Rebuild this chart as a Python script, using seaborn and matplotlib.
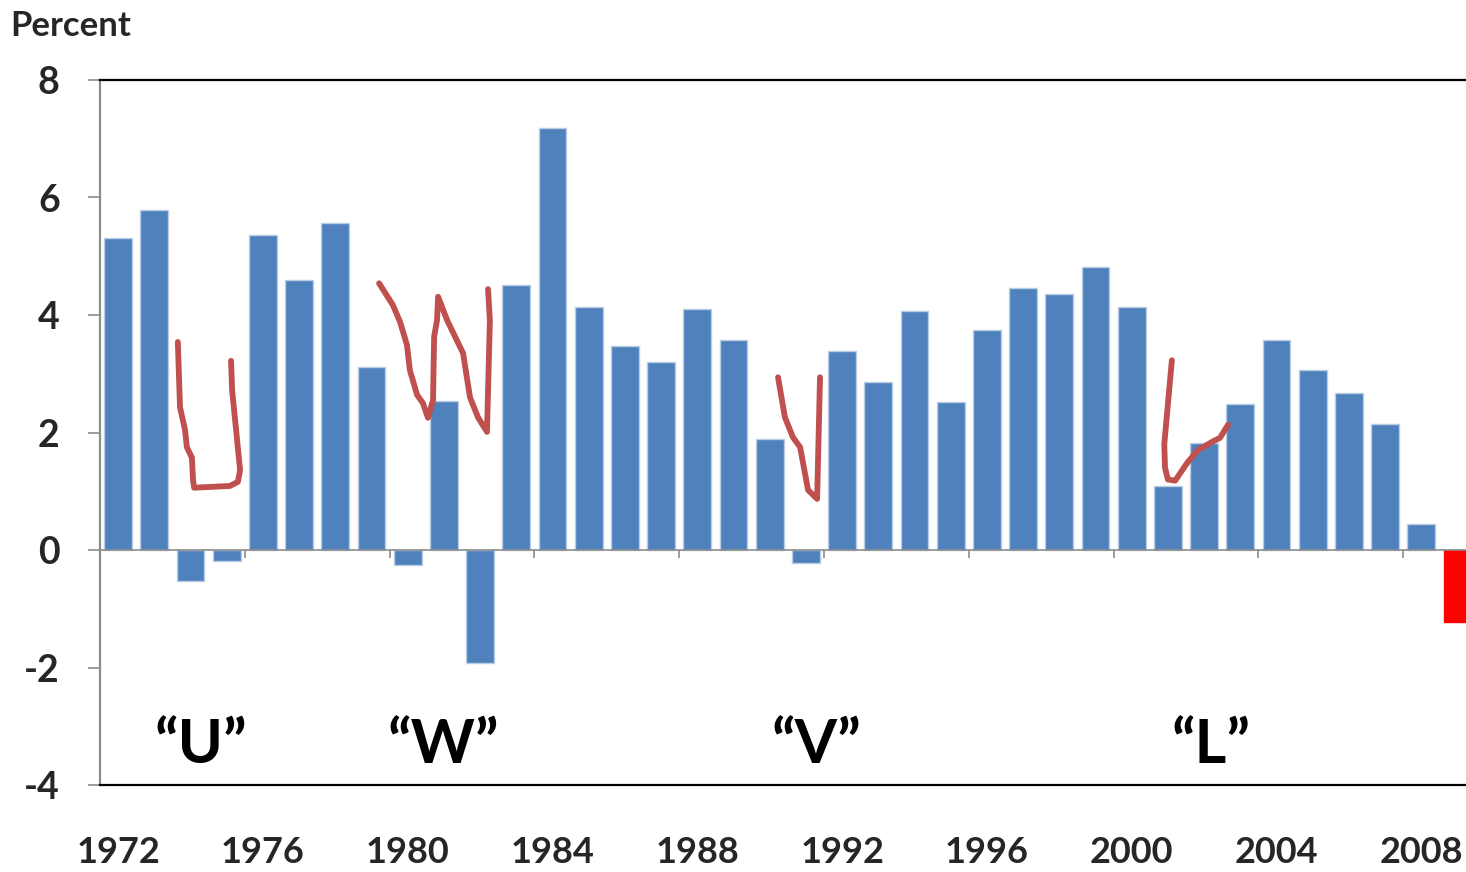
import matplotlib
matplotlib.use("Agg")
import matplotlib.pyplot as plt
import pandas as pd
import seaborn as sns

years = list(range(1972, 2010))
growth = [5.31, 5.79, -0.53, -0.19, 5.36, 4.60, 5.57, 3.11, -0.26, 2.54,
          -1.92, 4.51, 7.18, 4.14, 3.47, 3.20, 4.10, 3.57, 1.89, -0.22,
          3.39, 2.86, 4.07, 2.52, 3.74, 4.46, 4.36, 4.82, 4.14, 1.09,
          1.82, 2.49, 3.57, 3.06, 2.67, 2.14, 0.44, -1.23]
tick_years = list(range(1972, 2009, 4))
y_ticks = [-4, -2, 0, 2, 4, 6, 8]

# hand-drawn recession shapes (year, percent)
u_x = [1973.65, 1973.71, 1973.85, 1973.90, 1974.04, 1974.07, 1974.10, 1975.09, 1975.31, 1975.37, 1975.26, 1975.15, 1975.12]
u_y = [3.54, 2.43, 2.04, 1.75, 1.57, 1.19, 1.06, 1.09, 1.16, 1.36, 2.04, 2.72, 3.22]
w_x = [1979.21, 1979.59, 1979.79, 1979.98, 1980.06, 1980.26, 1980.42, 1980.56, 1980.70, 1980.73, 1980.81, 1980.84,
       1981.09, 1981.53, 1981.72, 1981.94, 1982.19, 1982.27, 1982.22]
w_y = [4.54, 4.17, 3.88, 3.49, 3.06, 2.64, 2.50, 2.25, 2.55, 3.63, 3.91, 4.31,
       3.91, 3.35, 2.60, 2.26, 2.01, 3.91, 4.44]
v_x = [1990.23, 1990.42, 1990.64, 1990.84, 1991.06, 1991.31, 1991.39]
v_y = [2.94, 2.26, 1.92, 1.75, 1.02, 0.87, 2.94]
l_x = [2001.11, 2000.90, 2000.92, 2001.00, 2001.20, 2001.53, 2001.83, 2002.22, 2002.44, 2002.66]
l_y = [3.23, 1.80, 1.40, 1.20, 1.18, 1.48, 1.70, 1.84, 1.91, 2.13]

shape_labels = ["\u201cU\u201d", "\u201cW\u201d", "\u201cV\u201d", "\u201cL\u201d"]
shape_label_x = [1974.3, 1981.0, 1991.3, 2002.2]

sns.set_style("white")
plt.rcParams["font.family"] = ["Lato", "DejaVu Sans"]

df = pd.DataFrame({"year": years, "growth": growth})
colors = ["#4F81BD"] * (len(years) - 1) + ["#FF0000"]

fig = plt.figure(figsize=(14.66, 8.72), dpi=100)
ax = fig.add_axes([100 / 1466, 87 / 872, 1375.6 / 1466, 705 / 872])
sns.barplot(data=df, x="year", y="growth", hue="year", palette=colors,
            legend=False, width=0.77, ax=ax, saturation=1)
for i, p in enumerate(ax.patches):
    p.set_edgecolor("#B9CDE5" if i < len(years) - 1 else "#FF0000")
    p.set_linewidth(1)

ax.set_xlim(-0.5, len(years) - 0.5)
ax.set_ylim(-4, 8)

# zero line with group tick marks
ax.axhline(0, color="#8C8C8C", lw=1.2, zorder=3)
bounds = [y - 1972 - 0.5 for y in tick_years[1:]]
ax.vlines(bounds, -0.14, 0, color="#8C8C8C", lw=1.2, zorder=3)

for xs, ys in [(u_x, u_y), (w_x, w_y), (v_x, v_y), (l_x, l_y)]:
    ax.plot([x - 1972 for x in xs], ys, color="#C0504D", lw=4.2,
            solid_capstyle="round", solid_joinstyle="round", zorder=4)

for lab, lx in zip(shape_labels, shape_label_x):
    ax.text(lx - 1972, -3.32, lab, ha="center", va="center",
            fontsize=44, fontweight="bold", color="black")

ax.set_xticks([y - 1972 for y in tick_years])
ax.set_xticklabels([str(y) for y in tick_years], fontsize=26, fontweight="bold")
ax.tick_params(axis="x", length=0, pad=37)
ax.set_yticks(y_ticks)
ax.set_yticklabels([str(v) for v in y_ticks], fontsize=27, fontweight="bold")
ax.tick_params(axis="y", length=9, width=1.2, color="#8C8C8C", pad=20, left=True)
ax.set_xlabel("")
ax.set_ylabel("")

for side in ["top", "bottom"]:
    ax.spines[side].set_color("black")
    ax.spines[side].set_linewidth(1.6)
ax.spines["left"].set_color("#8C8C8C")
ax.spines["left"].set_linewidth(1.6)
ax.spines["right"].set_visible(False)

fig.text(10 / 1466, 1 - 26 / 872, "Percent", ha="left", va="center",
         fontsize=25, fontweight="bold")

fig.savefig("out.png", dpi=100)
